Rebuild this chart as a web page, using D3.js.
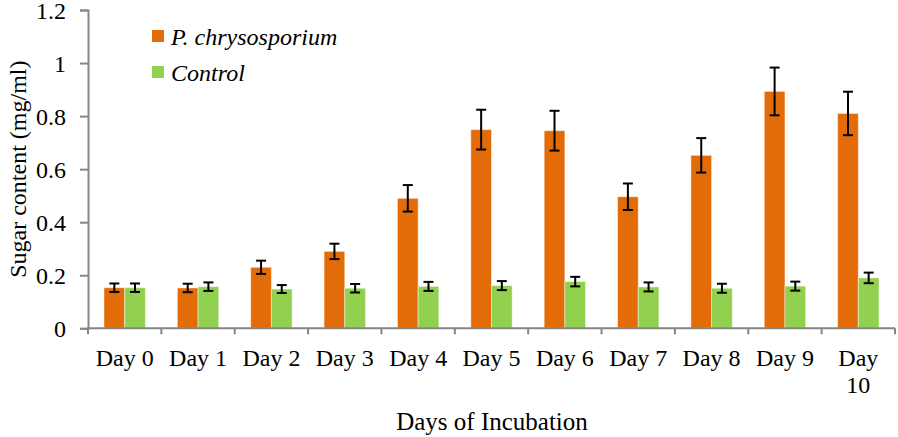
<!DOCTYPE html>
<html>
<head>
<meta charset="utf-8">
<script src="https://cdn.jsdelivr.net/npm/d3@7"></script>
<style>
  html, body { margin: 0; padding: 0; background: #fff; }
  svg { display: block; }
</style>
</head>
<body>
<svg id="chart" width="898" height="437"></svg>
<script>
const categories = ["Day 0","Day 1","Day 2","Day 3","Day 4","Day 5","Day 6","Day 7","Day 8","Day 9","Day 10"];
const seriesNames = ["P. chrysosporium","Control"];
const pchrysoValues = [0.153,0.152,0.230,0.290,0.490,0.749,0.745,0.496,0.652,0.893,0.810];
const pchrysoErrors = [0.016,0.016,0.025,0.029,0.050,0.075,0.075,0.050,0.065,0.090,0.082];
const controlValues = [0.153,0.157,0.148,0.151,0.158,0.161,0.176,0.156,0.151,0.159,0.190];
const controlErrors = [0.016,0.016,0.015,0.016,0.017,0.017,0.018,0.017,0.017,0.017,0.020];
const yTicks = [0,0.2,0.4,0.6,0.8,1,1.2];
const colors = ["#E36C09","#92D050"];

const FONT = "'Liberation Serif', 'DejaVu Serif', 'Times New Roman', serif";
const svg = d3.select("#chart");
const mLeft = 88, mRight = 895, mTop = 10, mBottom = 328.3;

const x = d3.scaleBand().domain(categories).range([mLeft, mRight]).paddingInner(0).paddingOuter(0);
const bw = x.bandwidth();
const barW = bw * 0.282;
const x1 = d3.scaleBand().domain(seriesNames).range([(bw - 2*barW)/2, (bw + 2*barW)/2]).padding(0);
const y = d3.scaleLinear().domain([0, 1.2]).range([mBottom, mTop]);

const data = categories.map((c, i) => ({
  cat: c,
  vals: [
    {s: seriesNames[0], v: pchrysoValues[i], e: pchrysoErrors[i], color: colors[0]},
    {s: seriesNames[1], v: controlValues[i], e: controlErrors[i], color: colors[1]}
  ]
}));

// Bars
const groups = svg.append("g").selectAll("g").data(data).join("g")
  .attr("transform", d => `translate(${x(d.cat)},0)`);
groups.selectAll("rect").data(d => d.vals).join("rect")
  .attr("x", d => x1(d.s))
  .attr("width", x1.bandwidth())
  .attr("y", d => y(d.v))
  .attr("height", d => y(0) - y(d.v))
  .attr("fill", d => d.color)
  .attr("stroke", "rgba(255,255,255,0.45)")
  .attr("stroke-width", 1);

// Error bars
const eb = groups.selectAll("g.err").data(d => d.vals).join("g").attr("class","err");
const cap = 5;
eb.append("line")
  .attr("x1", d => x1(d.s) + x1.bandwidth()/2).attr("x2", d => x1(d.s) + x1.bandwidth()/2)
  .attr("y1", d => y(d.v + d.e)).attr("y2", d => y(d.v - d.e))
  .attr("stroke", "#000").attr("stroke-width", 2);
eb.append("line")
  .attr("x1", d => x1(d.s) + x1.bandwidth()/2 - cap).attr("x2", d => x1(d.s) + x1.bandwidth()/2 + cap)
  .attr("y1", d => y(d.v + d.e)).attr("y2", d => y(d.v + d.e))
  .attr("stroke", "#000").attr("stroke-width", 2);
eb.append("line")
  .attr("x1", d => x1(d.s) + x1.bandwidth()/2 - cap).attr("x2", d => x1(d.s) + x1.bandwidth()/2 + cap)
  .attr("y1", d => y(d.v - d.e)).attr("y2", d => y(d.v - d.e))
  .attr("stroke", "#000").attr("stroke-width", 2);

// Y axis
const yAxis = d3.axisLeft(y).tickValues(yTicks).tickSize(8).tickPadding(14)
  .tickFormat(d => d3.format("")(+d.toFixed(1)));
const gy = svg.append("g").attr("transform", `translate(${mLeft},0)`).call(yAxis)
  .attr("font-family", null).attr("font-size", null);
gy.select(".domain").attr("stroke", "#868686").attr("stroke-width", 2);
gy.selectAll(".tick line").attr("stroke", "#868686").attr("stroke-width", 2);
gy.selectAll(".tick text").style("font-family", FONT).style("font-size", "24px")
  .attr("fill", "#000").attr("dy", "0.36em");

// X axis
const gx = svg.append("g").attr("transform", `translate(0,${mBottom})`);
gx.append("line").attr("x1", mLeft).attr("x2", mRight).attr("y1", 0).attr("y2", 0)
  .attr("stroke", "#868686").attr("stroke-width", 2);
const boundaries = categories.map(c => x(c)).concat([x(categories[categories.length-1]) + bw]);
gx.selectAll("line.tk").data(boundaries).join("line").attr("class","tk")
  .attr("x1", d => d).attr("x2", d => d).attr("y1", 0).attr("y2", 6)
  .attr("stroke", "#868686").attr("stroke-width", 2);
const xl = gx.selectAll("text.xl").data(categories).join("text").attr("class","xl")
  .attr("text-anchor", "middle").style("font-family", FONT).style("font-size", "24px")
  .attr("transform", d => `translate(${x(d) + bw/2},0)`);
xl.each(function(d) {
  const t = d3.select(this);
  const w = d.split(" ");
  if (d === "Day 10") {
    t.append("tspan").attr("x", 0).attr("y", 38).text(w[0]);
    t.append("tspan").attr("x", 0).attr("y", 65).text(w[1]);
  } else {
    t.append("tspan").attr("x", 0).attr("y", 38).text(d);
  }
});

// Axis titles
svg.append("text").attr("x", 492).attr("y", 430)
  .attr("text-anchor", "middle").style("font-family", FONT).style("font-size", "25px").text("Days of Incubation");
svg.append("text").attr("transform", `translate(26,${(mTop+mBottom)/2}) rotate(-90)`)
  .attr("text-anchor", "middle").style("font-family", FONT).style("font-size", "24px").text("Sugar content (mg/ml)");

// Legend
const legend = svg.append("g");
seriesNames.forEach((s, i) => {
  const yy = 30 + i * 36;
  legend.append("rect").attr("x", 152).attr("y", yy).attr("width", 12).attr("height", 12).attr("fill", colors[i]);
  legend.append("text").attr("x", 171).attr("y", yy + 14.5)
    .style("font-family", FONT).style("font-size", "24px").style("font-style", "italic").text(s);
});
</script>
</body>
</html>
